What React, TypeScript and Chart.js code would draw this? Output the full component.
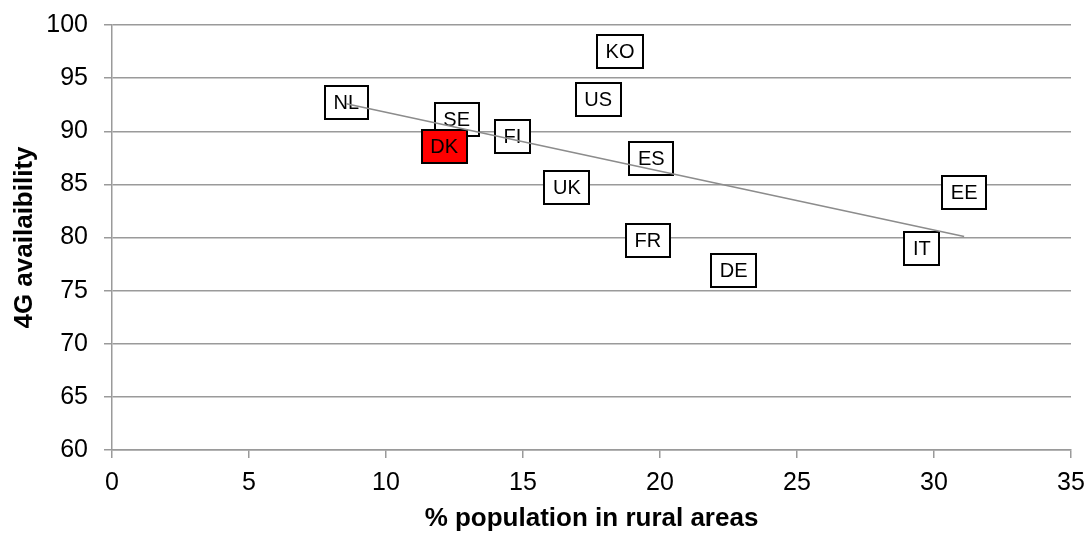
import React, { useEffect, useRef } from "react";
import { Chart, registerables } from "chart.js";

Chart.register(...registerables);

const countries = ["NL", "SE", "DK", "FI", "KO", "US", "ES", "UK", "FR", "DE", "IT", "EE"];
const ruralPct = [8.55, 12.58, 12.12, 14.61, 18.54, 17.74, 19.68, 16.6, 19.56, 22.69, 29.56, 31.1];
const availability4G = [92.75, 91.1, 88.56, 89.48, 97.48, 92.97, 87.39, 84.7, 79.72, 76.91, 79.0, 84.19];
const highlighted = "DK";

const xTitle = "% population in rural areas";
const yTitle = "4G availaibility";
const xRange = [0, 35];
const yRange = [60, 100];
const tickStep = 5;

const FONT = "'Liberation Sans', Arial, sans-serif";
const GRID = "#9a9a9a";

function linearFit(xs: number[], ys: number[]) {
  const n = xs.length;
  const mx = xs.reduce((a, b) => a + b, 0) / n;
  const my = ys.reduce((a, b) => a + b, 0) / n;
  let sxy = 0;
  let sxx = 0;
  for (let i = 0; i < n; i++) {
    sxy += (xs[i] - mx) * (ys[i] - my);
    sxx += (xs[i] - mx) * (xs[i] - mx);
  }
  const slope = sxy / sxx;
  return { slope, intercept: my - slope * mx };
}

const labelBoxes = {
  id: "labelBoxes",
  beforeDatasetsDraw(chart: any) {
    const ctx = chart.ctx;
    const xs = chart.scales.x;
    const ys = chart.scales.y;
    ctx.save();
    ctx.font = `20px ${FONT}`;
    ctx.textAlign = "center";
    ctx.textBaseline = "middle";
    countries.forEach((c, i) => {
      const px = xs.getPixelForValue(ruralPct[i]);
      const py = ys.getPixelForValue(availability4G[i]);
      const tw = ctx.measureText(c).width;
      const w = Math.round(tw + 17);
      const h = 33;
      const left = Math.round(px - w / 2);
      const top = Math.round(py - h / 2);
      ctx.fillStyle = c === highlighted ? "#ff0000" : "#ffffff";
      ctx.fillRect(left, top, w, h);
      ctx.lineWidth = 2;
      ctx.strokeStyle = "#000000";
      ctx.strokeRect(left, top, w, h);
      ctx.fillStyle = "#000000";
      ctx.fillText(c, px, py + 1);
    });
    ctx.restore();
  },
};

function zeroPad(s: any) {
  s.paddingLeft = 0;
  s.paddingRight = 0;
  s.paddingTop = 0;
  s.paddingBottom = 0;
}

export default function App() {
  const ref = useRef<HTMLCanvasElement>(null);
  useEffect(() => {
    if (!ref.current) return;
    const fit = linearFit(ruralPct, availability4G);
    const xMin = Math.min(...ruralPct);
    const xMax = Math.max(...ruralPct);
    const chart = new Chart(ref.current, {
      type: "scatter",
      data: {
        datasets: [
          {
            label: "countries",
            data: countries.map((c, i) => ({ x: ruralPct[i], y: availability4G[i] })),
            pointRadius: 0,
            pointHoverRadius: 0,
            showLine: false,
          },
          {
            label: "trend",
            data: [
              { x: xMin, y: fit.intercept + fit.slope * xMin },
              { x: xMax, y: fit.intercept + fit.slope * xMax },
            ],
            showLine: true,
            borderColor: "#8c8c8c",
            borderWidth: 1.5,
            pointRadius: 0,
            pointHoverRadius: 0,
          },
        ],
      },
      options: {
        animation: false,
        responsive: true,
        maintainAspectRatio: false,
        layout: { padding: { top: 25, right: 17, left: 0, bottom: 0 } },
        plugins: { legend: { display: false }, tooltip: { enabled: false } },
        events: [],
        scales: {
          x: {
            type: "linear",
            min: xRange[0],
            max: xRange[1],
            afterFit: (s: any) => {
              s.height = 84;
              zeroPad(s);
            },
            ticks: { stepSize: tickStep, color: "#000", font: { family: FONT, size: 25 }, padding: 10 },
            grid: { drawOnChartArea: false, drawTicks: true, tickLength: 8, color: GRID, lineWidth: 1.5 },
            border: { display: true, color: GRID, width: 1.5 },
            title: {
              display: true,
              text: xTitle,
              color: "#000",
              font: { family: FONT, size: 26, weight: "bold" },
              padding: { top: 0, bottom: 0 },
            },
          },
          y: {
            type: "linear",
            min: yRange[0],
            max: yRange[1],
            afterFit: (s: any) => {
              s.width = 112;
              zeroPad(s);
            },
            ticks: { stepSize: tickStep, color: "#000", font: { family: FONT, size: 25 }, padding: 16 },
            grid: { drawOnChartArea: true, drawTicks: true, tickLength: 8, color: GRID, lineWidth: 1.5 },
            border: { display: true, color: GRID, width: 1.5 },
            title: {
              display: true,
              text: yTitle,
              color: "#000",
              font: { family: FONT, size: 26, weight: "bold" },
              padding: { top: 9, bottom: 0 },
            },
          },
        },
      },
      plugins: [labelBoxes],
    });
    return () => chart.destroy();
  }, []);
  return (
    <div style={{ position: "absolute", left: 0, top: 0, width: 1088, height: 534, background: "#fff" }}>
      <canvas ref={ref} />
    </div>
  );
}
